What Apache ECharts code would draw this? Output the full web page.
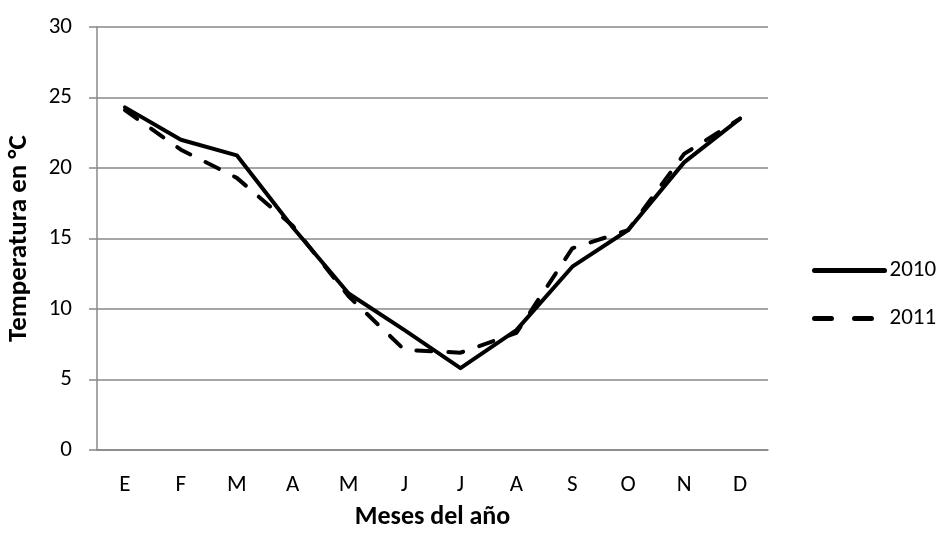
<!DOCTYPE html>
<html><head><meta charset="utf-8">
<script src="https://cdn.jsdelivr.net/npm/echarts@6/dist/echarts.min.js"></script>
<style>html,body{margin:0;padding:0;background:#fff}#c{width:940px;height:534px}</style>
</head><body><div id="c"></div>
<script>
const categories = ['E','F','M','A','M','J','J','A','S','O','N','D'];
const s2010 = [24.3, 22.0, 20.9, 15.8, 11.1, 8.5, 5.8, 8.5, 13.0, 15.6, 20.4, 23.5];
const s2011 = [24.1, 21.3, 19.3, 15.9, 10.9, 7.1, 6.9, 8.3, 14.3, 15.6, 21.0, 23.5];
const yTicks = [0, 5, 10, 15, 20, 25, 30];
const FONT = 'Carlito, Lato, "Open Sans", sans-serif';
const chart = echarts.init(document.getElementById('c'));
const legendBase = {
  orient: 'vertical', left: 807, itemWidth: 70, itemHeight: 14, itemGap: 5,
  textStyle: {fontFamily: FONT, fontSize: 23, color: '#000'},
  itemStyle: {opacity: 0}
};
chart.setOption({
  animation: false,
  backgroundColor: '#fff',
  grid: {left: 97, right: 172, top: 27, bottom: 84, containLabel: false, outerBoundsMode: 'none'},
  legend: [
    Object.assign({}, legendBase, {top: 254, data: ['2010'], lineStyle: {width: 5, type: 'solid', cap: 'round'}}),
    Object.assign({}, legendBase, {top: 302, data: ['2011'], lineStyle: {width: 5, type: [17, 23], cap: 'round'}})
  ],
  xAxis: {
    type: 'category', data: categories, boundaryGap: true,
    name: 'Meses del año', nameLocation: 'middle', nameGap: 54,
    nameTextStyle: {fontFamily: FONT, fontSize: 26, fontWeight: 'bold', color: '#000'},
    axisLine: {lineStyle: {color: '#888', width: 1.5}},
    axisTick: {show: false},
    axisLabel: {fontFamily: FONT, fontSize: 23, color: '#000', margin: 24}
  },
  yAxis: {
    type: 'value', min: yTicks[0], max: yTicks[yTicks.length - 1], interval: 5,
    name: 'Temperatura en °C', nameLocation: 'middle', nameGap: 64,
    nameTextStyle: {fontFamily: FONT, fontSize: 27, fontWeight: 'bold', color: '#000'},
    axisLine: {show: true, lineStyle: {color: '#888', width: 1.5}},
    axisTick: {show: true, length: 8, lineStyle: {color: '#888', width: 1.5}},
    axisLabel: {fontFamily: FONT, fontSize: 23, color: '#000', margin: 25},
    splitLine: {lineStyle: {color: '#888', width: 1.5}}
  },
  series: [
    {name: '2010', type: 'line', data: s2010, symbol: 'none', color: '#000',
     lineStyle: {color: '#000', width: 4, cap: 'round', join: 'round'}},
    {name: '2011', type: 'line', data: s2011, symbol: 'none', color: '#000',
     lineStyle: {color: '#000', width: 4, type: [15, 17], cap: 'round', join: 'round'}}
  ]
});
</script></body></html>
